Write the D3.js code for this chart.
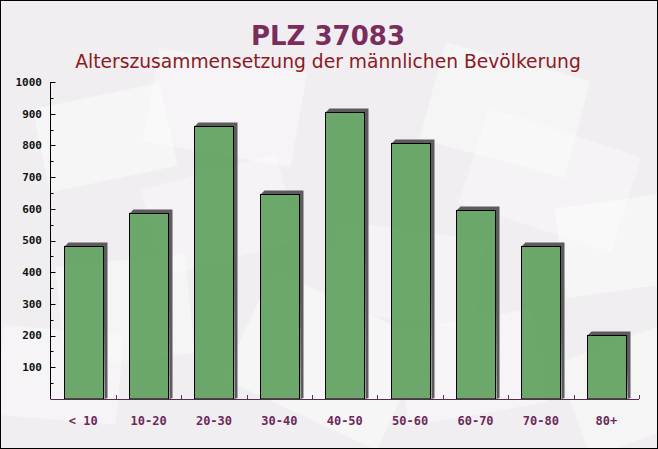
<!DOCTYPE html>
<html>
<head>
<meta charset="utf-8">
<script src="https://cdn.jsdelivr.net/npm/d3@7"></script>
<style>
  html, body { margin: 0; padding: 0; background: #fff; }
  svg { display: block; }
</style>
</head>
<body>
<svg id="chart" width="658" height="449"></svg>
<script>
const categories = ["< 10", "10-20", "20-30", "30-40", "40-50", "50-60", "60-70", "70-80", "80+"];
const values = [484, 586, 861, 646, 904, 808, 596, 482, 202];
const yTicks = [100, 200, 300, 400, 500, 600, 700, 800, 900, 1000];
const title = "PLZ 37083";
const subtitle = "Alterszusammensetzung der männlichen Bevölkerung";

const W = 658, H = 449;
const svg = d3.select("#chart");

// background
svg.append("rect").attr("width", W).attr("height", H).attr("fill", "#f1eef1");
const deco = svg.append("g").attr("fill", "#ffffff");
const decoRects = [
  [40, 95, 130, 85, -12, 0.45], [150, 60, 150, 95, 10, 0.35], [430, 60, 150, 100, 15, 0.4],
  [560, 200, 120, 90, -8, 0.45], [60, 260, 130, 100, -6, 0.4], [240, 300, 170, 120, 25, 0.45],
  [400, 320, 140, 95, -10, 0.35], [330, 230, 150, 90, 8, 0.3], [150, 170, 140, 90, -15, 0.3],
  [470, 130, 160, 100, 18, 0.3], [0, 330, 120, 90, 5, 0.35], [570, 340, 120, 100, -20, 0.4]
];
decoRects.forEach(([x, y, w, h, r, o]) => {
  deco.append("rect").attr("x", x).attr("y", y).attr("width", w).attr("height", h)
    .attr("opacity", o).attr("transform", `rotate(${r},${x + w / 2},${y + h / 2})`);
});

// scales
const x = d3.scaleBand().domain(categories).range([50.5, 639]).paddingInner(0.4).paddingOuter(0.2);
const y = d3.scaleLinear().domain([0, 1000]).range([399, 82]);

// bars with 3D shadow
const dx = 4, dy = 4;
const bars = svg.append("g");
categories.forEach((c, i) => {
  const x0 = Math.round(x(c)) + 0.5, x1 = x0 + Math.round(x.bandwidth());
  const top = Math.round(y(values[i])) + 0.5, base = y(0);
  bars.append("polygon")
    .attr("points", [[x0, top], [x0 + dx, top - dy], [x1 + dx, top - dy], [x1 + dx, base - 1], [x1 + 1, base], [x1, top]].map(p => p.join(",")).join(" "))
    .attr("fill", "#5e5b5e");
  bars.append("rect")
    .attr("x", x0).attr("y", top).attr("width", x1 - x0).attr("height", base - top)
    .attr("fill", "#5fa15f").attr("fill-opacity", 0.92)
    .attr("stroke", "#000").attr("stroke-width", 1);
});

// y axis
const yAxisG = svg.append("g");
yAxisG.append("line").attr("x1", 50.5).attr("x2", 50.5).attr("y1", y(1000)).attr("y2", y(0)).attr("stroke", "#000");
d3.range(50, 1001, 50).forEach(v => {
  const major = v % 100 === 0;
  yAxisG.append("line").attr("x1", 50.5).attr("x2", 50.5 + (major ? 5 : 3))
    .attr("y1", Math.round(y(v)) + 0.5).attr("y2", Math.round(y(v)) + 0.5).attr("stroke", "#000");
});
yAxisG.selectAll("text").data(yTicks).join("text")
  .attr("x", 42).attr("y", d => y(d)).attr("dy", "0.35em")
  .attr("text-anchor", "end")
  .attr("font-family", "DejaVu Sans Mono").attr("font-weight", "bold").attr("font-size", 11)
  .attr("fill", "#111").text(d => d);

// x axis
const xAxisG = svg.append("g");
xAxisG.append("line").attr("x1", 50.5).attr("x2", 639).attr("y1", 399.5).attr("y2", 399.5).attr("stroke", "#5c2a50");
categories.forEach((c, i) => {
  const tx = Math.round(x(c) + x.bandwidth() + x.step() * x.paddingInner() / 2) + 0.5;
  xAxisG.append("line").attr("x1", tx).attr("x2", tx).attr("y1", 399).attr("y2", 395).attr("stroke", "#444");
});
xAxisG.selectAll("text").data(categories).join("text")
  .attr("x", d => x(d) + x.bandwidth() / 2).attr("y", 421).attr("dy", "0.35em")
  .attr("text-anchor", "middle")
  .attr("font-family", "DejaVu Sans Mono").attr("font-weight", "bold").attr("font-size", 12)
  .attr("fill", "#6b2a5a").text(d => d);

// titles
svg.append("text").attr("x", 328).attr("y", 45).attr("text-anchor", "middle")
  .attr("font-family", "DejaVu Sans").attr("font-weight", "bold").attr("font-size", 26)
  .attr("fill", "#7a2d5c").text(title);
const sub = svg.append("text").attr("x", 328).attr("y", 68).attr("text-anchor", "middle")
  .attr("font-family", "DejaVu Sans").attr("font-size", 18)
  .attr("fill", "#8b1a24").text(subtitle);
const len = sub.node().getComputedTextLength();
sub.attr("font-size", 18 * 506 / len);

// frame
svg.append("rect").attr("x", 0.5).attr("y", 0.5).attr("width", W - 1).attr("height", H - 1)
  .attr("fill", "none").attr("stroke", "#000");
</script>
</body>
</html>
